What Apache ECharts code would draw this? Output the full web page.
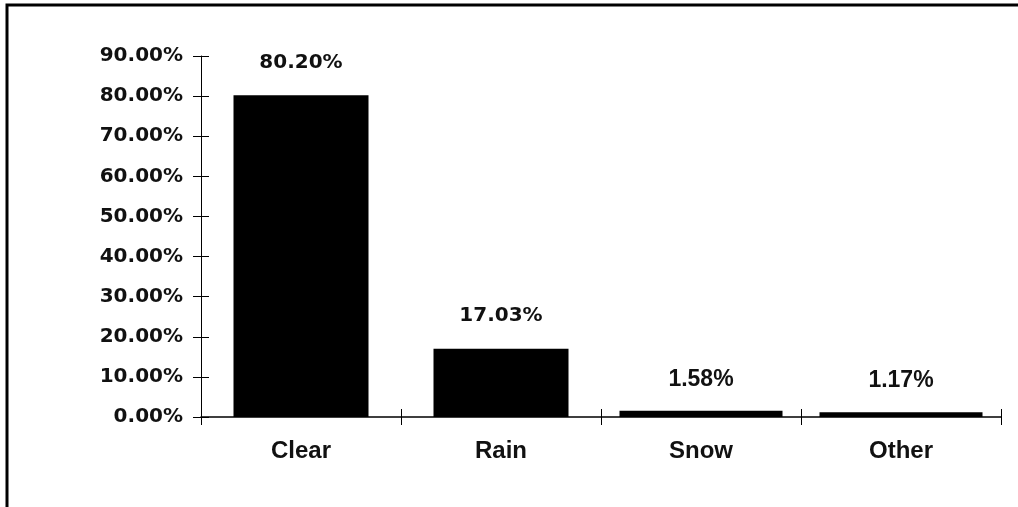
<!DOCTYPE html>
<html>
<head>
<meta charset="utf-8">
<script src="https://cdn.jsdelivr.net/npm/echarts@6/dist/echarts.min.js"></script>
<style>
  html, body { margin: 0; padding: 0; background: #fff; }
  #chart { width: 1018px; height: 507px; }
</style>
</head>
<body>
<div id="chart"></div>
<script>
const categories = ['Clear', 'Rain', 'Snow', 'Other'];
const shares = [80.20, 17.03, 1.58, 1.17];
const yTicks = [0, 10, 20, 30, 40, 50, 60, 70, 80, 90];

// the scan draws the two small bars wider than the two tall ones
const wideBar = [false, false, true, true];

const chart = echarts.init(document.getElementById('chart'), null, { renderer: 'canvas' });

const pct = v => v.toFixed(2) + '%';

const roundFont = { fontFamily: 'DejaVu Sans', fontWeight: 'bold', fontSize: 20 };
const plainFont = { fontFamily: 'Liberation Sans', fontWeight: 'bold', fontSize: 23 };

function barSeries(wide) {
    return {
        type: 'bar',
        xAxisIndex: wide ? 1 : 0,
        yAxisIndex: 0,
        barWidth: wide ? 163 : 135,
        data: shares.map((v, i) => {
            if (wideBar[i] !== wide) return '-';
            return { value: v, label: wide ? plainFont : roundFont };
        }),
        itemStyle: { color: '#000' },
        label: {
            show: true,
            position: 'top',
            distance: wide ? 20 : 23,
            formatter: p => pct(p.value),
            color: '#111'
        },
        silent: true
    };
}

const option = {
    backgroundColor: '#fff',
    animation: false,
    grid: { left: 201, right: 17, top: 56, bottom: 90 },
    xAxis: [
        {
            type: 'category',
            data: categories,
            axisLine: { show: true, lineStyle: { color: '#000', width: 1.5 } },
            axisTick: { show: true, length: 8, lineStyle: { color: '#000' } },
            axisLabel: {
                margin: 22,
                color: '#111',
                fontFamily: 'Liberation Sans',
                fontWeight: 'bold',
                fontSize: 24
            }
        },
        {
            type: 'category',
            data: categories,
            position: 'bottom',
            axisLine: { show: true, lineStyle: { color: '#000', width: 0 } },
            axisTick: { show: true, inside: true, length: 8, lineStyle: { color: '#000' } },
            axisLabel: { show: false }
        }
    ],
    yAxis: [
        {
            type: 'value',
            min: 0,
            max: 90,
            interval: 10,
            splitLine: { show: false },
            axisLine: { show: true, lineStyle: { color: '#000', width: 1 } },
            axisTick: { show: true, length: 8, lineStyle: { color: '#000' } },
            axisLabel: Object.assign({
                margin: 18,
                color: '#111',
                formatter: v => yTicks.includes(v) ? pct(v) : ''
            }, roundFont)
        },
        {
            type: 'value',
            min: 0,
            max: 90,
            interval: 10,
            position: 'left',
            splitLine: { show: false },
            axisLine: { show: false },
            axisTick: { show: true, inside: true, length: 8, lineStyle: { color: '#000' } },
            axisLabel: { show: false }
        }
    ],
    series: [barSeries(false), barSeries(true)],
    graphic: [
        {
            type: 'polyline',
            shape: { points: [[7, 507], [7, 5], [1018, 5]] },
            style: { stroke: '#000', lineWidth: 3, fill: null },
            silent: true
        }
    ]
};

chart.setOption(option);
window.addEventListener('resize', chart.resize);
</script>
</body>
</html>
